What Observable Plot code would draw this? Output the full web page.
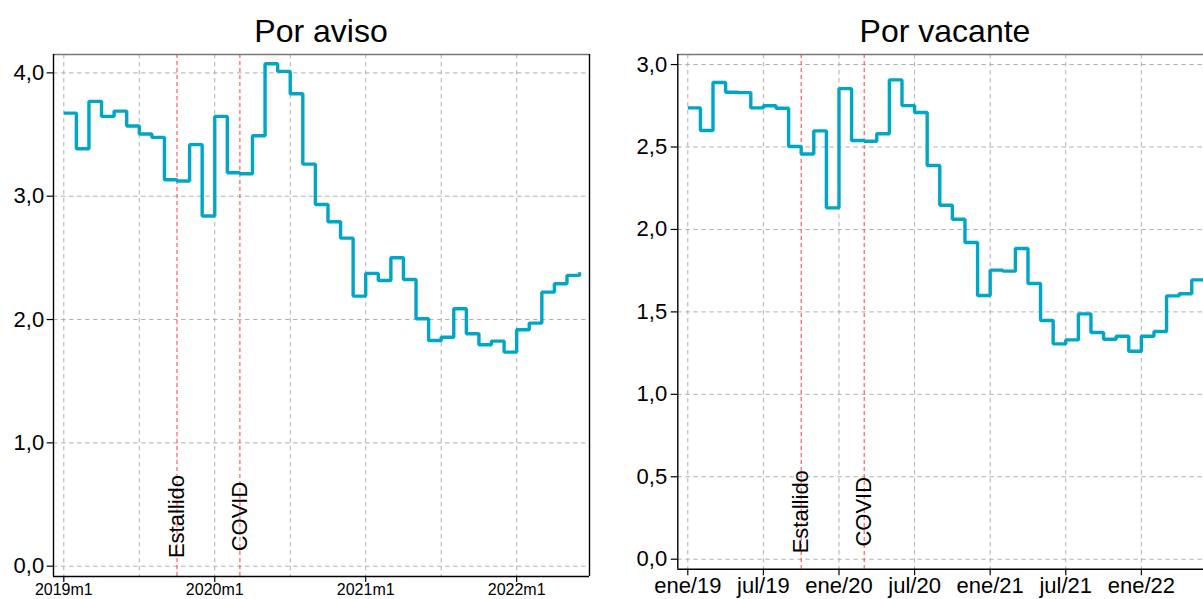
<!DOCTYPE html>
<html>
<head>
<meta charset="utf-8">
<script src="https://cdn.jsdelivr.net/npm/d3@7"></script>
<script src="https://cdn.jsdelivr.net/npm/@observablehq/plot@0.6"></script>
<style>
  html, body { margin: 0; padding: 0; background: #fff; overflow: hidden; }
  #wrap { position: relative; width: 1203px; height: 599px; overflow: hidden; background: #fff;
          font-family: "Liberation Sans", Arial, sans-serif; }
  .title { position: absolute; top: 15px; font-size: 32px; line-height: 32px; text-align: center; color: #000; }
  .panel { position: absolute; top: 44px; }
  .panel svg { max-width: none !important; display: block; }
</style>
</head>
<body>
<div id="wrap">
  <div class="title" style="left:53px;width:536px;">Por aviso</div>
  <div class="title" style="left:677px;width:536px;">Por vacante</div>
  <div class="panel" id="left" style="left:0px;width:600px;"></div>
  <div class="panel" id="right" style="left:620px;width:604px;"></div>
</div>
<script>
// Monthly series, 2019m1 .. 2022m6 (month index 0..41)
const porAviso = [3.674, 3.385, 3.769, 3.647, 3.69, 3.569, 3.504, 3.477, 3.134, 3.123, 3.418, 2.839,
                  3.647, 3.19, 3.182, 3.49, 4.074, 4.012, 3.831, 3.26, 2.933, 2.793, 2.66, 2.19,
                  2.374, 2.317, 2.501, 2.325, 2.006, 1.83, 1.857, 2.088, 1.885, 1.796, 1.825, 1.736,
                  1.917, 1.971, 2.222, 2.29, 2.358, 2.384];
const porVacante = [2.737, 2.6, 2.891, 2.832, 2.83, 2.737, 2.75, 2.735, 2.503, 2.458, 2.598, 2.131,
                    2.854, 2.539, 2.535, 2.58, 2.907, 2.751, 2.709, 2.388, 2.147, 2.062, 1.921, 1.599,
                    1.753, 1.747, 1.884, 1.672, 1.448, 1.306, 1.33, 1.488, 1.375, 1.334, 1.352, 1.261,
                    1.352, 1.381, 1.597, 1.61, 1.694, 1.70];
const eventNames = ["Estallido", "COVID"];
const eventMonths = [9, 14];
const leftTickMonths = [0, 12, 24, 36];
const leftTickLabels = ["2019m1", "2020m1", "2021m1", "2022m1"];
const rightTickMonths = [0, 6, 12, 18, 24, 30, 36];
const rightTickLabels = ["ene/19", "jul/19", "ene/20", "jul/20", "ene/21", "jul/21", "ene/22"];
const gridMonths = [0, 6, 12, 18, 24, 30, 36];
const leftYTicks = [0, 1, 2, 3, 4];
const rightYTicks = [0, 0.5, 1, 1.5, 2, 2.5, 3];

const lineColor = "#00a6c6";
const gridColor = "#b0b0b0";
const redColor = "#ff3c3c";
const fmt = d => d.toFixed(1).replace(".", ",");

function panel({values, xDomain, yDomain, yTicks, xTicks, xLabels, xFont, xTickSize, xTickPadding,
                yTickSize, yTickPadding, labelY, width, height, margins}) {
  const data = values.map((v, i) => ({m: i, v}));
  const events = eventNames.map((n, i) => ({name: n, m: eventMonths[i], y: labelY}));
  const xl = new Map(xTicks.map((t, i) => [t, xLabels[i]]));
  const svg = Plot.plot({
    width, height,
    marginTop: margins[0], marginRight: margins[1], marginBottom: margins[2], marginLeft: margins[3],
    style: {fontFamily: "'Liberation Sans', Arial, sans-serif", fontSize: "22px", color: "#000", background: "#fff", maxWidth: "none"},
    x: {domain: xDomain, axis: null},
    y: {domain: yDomain, axis: null},
    marks: [
      Plot.ruleY(yTicks, {y: d => d, stroke: gridColor, strokeWidth: 1, strokeDasharray: "4.5,3.5"}),
      Plot.ruleX(gridMonths, {x: d => d, stroke: gridColor, strokeWidth: 1, strokeDasharray: "4.5,3.5"}),
      Plot.ruleX(eventMonths, {x: d => d, stroke: redColor, strokeWidth: 1, strokeDasharray: "4,3"}),
      Plot.text(events, {x: "m", y: "y", text: "name", rotate: -90, textAnchor: "middle", lineAnchor: "middle",
                         fontSize: 22, fill: "#000"}),
      Plot.line(data, {x: "m", y: "v", curve: "step-after", stroke: lineColor, strokeWidth: 3.4,
                       strokeLinejoin: "miter", strokeLinecap: "butt"}),
      Plot.ruleY([yDomain[1]], {stroke: "#777", strokeWidth: 1.4}),
      Plot.ruleX([xDomain[1]], {stroke: "#000", strokeWidth: 1.4}),
      Plot.ruleX([xDomain[0]], {stroke: "#000", strokeWidth: 1.4}),
      Plot.ruleY([yDomain[0]], {stroke: "#000", strokeWidth: 1.4}),
      Plot.axisY(yTicks, {tickFormat: fmt, tickSize: yTickSize, tickPadding: yTickPadding, fontSize: 22,
                          stroke: "#000", strokeWidth: 1.2, label: null}),
      Plot.axisX(xTicks, {tickFormat: d => xl.get(d), tickSize: xTickSize, tickPadding: xTickPadding,
                          fontSize: xFont, stroke: "#000", strokeWidth: 1.2, label: null})
    ]
  });
  svg.style.maxWidth = "none";
  return svg;
}

document.getElementById("left").appendChild(panel({
  values: porAviso,
  xDomain: [-0.819, 41.79], yDomain: [-0.0835, 4.149],
  yTicks: leftYTicks, xTicks: leftTickMonths, xLabels: leftTickLabels, xFont: 16,
  xTickSize: 6, xTickPadding: 1, yTickSize: 6.3, yTickPadding: 3,
  labelY: 0.403, width: 600, height: 580, margins: [10, 11, 48, 53]
}));

document.getElementById("right").appendChild(panel({
  values: porVacante,
  xDomain: [-0.794, 41.75], yDomain: [-0.0606, 3.061],
  yTicks: rightYTicks, xTicks: rightTickMonths, xLabels: rightTickLabels, xFont: 22,
  xTickSize: 6.5, xTickPadding: 1.5, yTickSize: 6.6, yTickPadding: 4,
  labelY: 0.288, width: 604, height: 580, margins: [10, 10.7, 55.3, 57.3]
}));
</script>
</body>
</html>
